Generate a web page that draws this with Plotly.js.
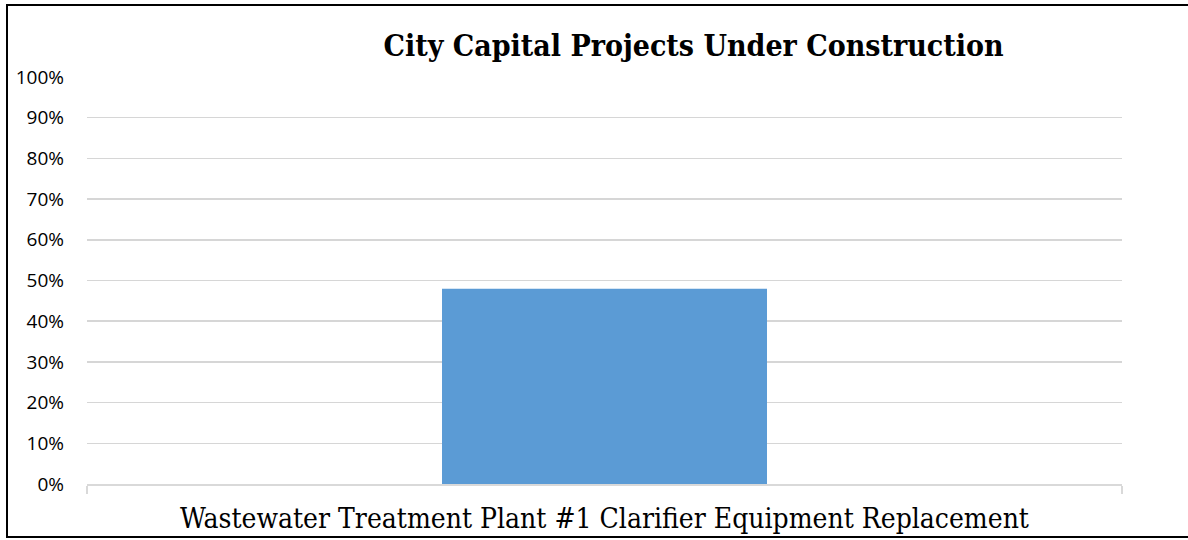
<!DOCTYPE html>
<html>
<head>
<meta charset="utf-8">
<script src="https://cdn.plot.ly/plotly-3.0.1.min.js"></script>
<style>
  html, body { margin: 0; padding: 0; background: #fff; }
  #frame {
    position: absolute; left: 6px; top: 4px;
    width: 1182px; height: 530px;
    border-left: 2px solid #000; border-top: 2px solid #000; border-bottom: 2px solid #000;
  }
  #chart { width: 1182px; height: 530px; }
</style>
</head>
<body>
<div id="frame"><div id="chart"></div></div>
<script>
const categories = ["Wastewater Treatment Plant #1 Clarifier Equipment Replacement"];
const percentComplete = [0.48];
const yTickValues = [0, 0.1, 0.2, 0.3, 0.4, 0.5, 0.6, 0.7, 0.8, 0.9, 1.0];
const yTickLabels = ["0%", "10%", "20%", "30%", "40%", "50%", "60%", "70%", "80%", "90%", "100%"];
const chartTitle = "City Capital Projects Under Construction";

const trace = {
  type: "bar",
  x: categories,
  y: percentComplete,
  marker: { color: "#5b9bd5" },
  hoverinfo: "none"
};

const layout = {
  width: 1182,
  height: 530,
  margin: { l: 79, r: 68, t: 71, b: 52 },
  paper_bgcolor: "#fff",
  plot_bgcolor: "#fff",
  bargap: 0.686,
  showlegend: false,
  title: {
    text: "<b>" + chartTitle + "</b>",
    font: { family: "'DejaVu Serif Condensed', 'DejaVu Serif', serif", size: 30, color: "#000" },
    xref: "container", x: 0.58, xanchor: "center",
    yref: "container", y: 0.926, yanchor: "middle"
  },
  xaxis: {
    type: "category",
    showgrid: false,
    showline: true,
    linecolor: "#d9d9d9",
    linewidth: 1.5,
    ticks: "outside",
    tickson: "boundaries",
    ticklen: 8,
    tickcolor: "#d9d9d9",
    tickwidth: 1.5,
    ticklabelstandoff: 9,
    tickfont: { family: "'DejaVu Serif Condensed', 'DejaVu Serif', serif", size: 28, color: "#000" },
    zeroline: false
  },
  yaxis: {
    range: [0, 1],
    tickvals: yTickValues,
    ticktext: yTickLabels,
    showgrid: true,
    gridcolor: "#d6d6d6",
    gridwidth: 1.5,
    showline: false,
    zeroline: false,
    ticks: "",
    ticklabelstandoff: 22,
    tickfont: { family: "'Open Sans', sans-serif", size: 19, color: "#000" }
  }
};

Plotly.newPlot("chart", [trace], layout, { displayModeBar: false, staticPlot: true });
</script>
</body>
</html>
